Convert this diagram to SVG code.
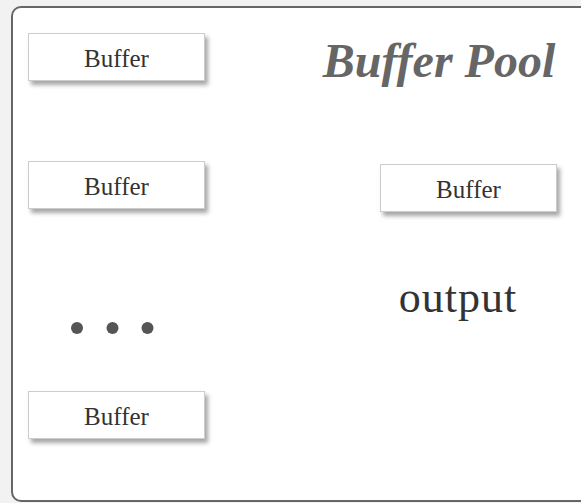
<svg xmlns="http://www.w3.org/2000/svg" width="581" height="503" viewBox="0 0 581 503">
  <defs>
    <filter id="shadow" x="-10%" y="-20%" width="130%" height="160%">
      <feDropShadow dx="3" dy="4" stdDeviation="2" flood-color="#000" flood-opacity="0.35"/>
    </filter>
  </defs>
  <style>
    .buf rect { fill: #ffffff; stroke: #cccccc; stroke-width: 1; filter: url(#shadow); }
    .buf text { font-family: "Liberation Serif", "DejaVu Serif", serif; font-size: 25px; fill: #333333; text-anchor: middle; }
    .dot { fill: #555555; }
  </style>
  <rect x="0" y="0" width="581" height="503" fill="#f2f2f2"/>
  <!-- pool frame -->
  <rect id="pool" x="12" y="7" width="580" height="494" rx="9" ry="9" fill="#ffffff" stroke="#666666" stroke-width="2"/>
  <text x="439" y="77" font-family="Liberation Serif, DejaVu Serif, serif" font-size="48" font-style="italic" font-weight="bold" fill="#666666" text-anchor="middle">Buffer Pool</text>

  <g id="buffer1" class="buf">
    <rect x="28.5" y="33.5" width="176" height="47"/>
    <text x="116.5" y="67">Buffer</text>
  </g>
  <g id="buffer2" class="buf">
    <rect x="28.5" y="161.5" width="176" height="47"/>
    <text x="116.5" y="195">Buffer</text>
  </g>
  <g id="buffer3" class="buf">
    <rect x="380.5" y="164.5" width="176" height="47"/>
    <text x="468.5" y="198">Buffer</text>
  </g>
  <g id="buffer4" class="buf">
    <rect x="28.5" y="391.5" width="176" height="47"/>
    <text x="116.5" y="425">Buffer</text>
  </g>

  <g id="ellipsis">
    <circle class="dot" cx="77" cy="328" r="6"/>
    <circle class="dot" cx="112.5" cy="328" r="6"/>
    <circle class="dot" cx="147.5" cy="328" r="6"/>
  </g>

  <text x="458" y="312" font-family="Liberation Serif, DejaVu Serif, serif" font-size="44" fill="#333333" text-anchor="middle" letter-spacing="1">output</text>
</svg>
